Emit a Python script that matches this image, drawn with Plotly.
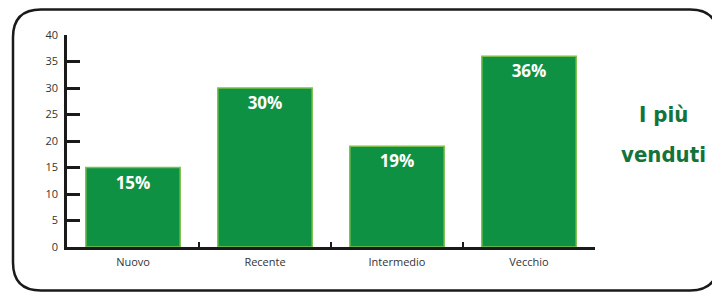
import plotly.graph_objects as go

categories = ["Nuovo", "Recente", "Intermedio", "Vecchio"]
values = [15, 30, 19, 36]
labels = ["15%", "30%", "19%", "36%"]
y_ticks = [0, 5, 10, 15, 20, 25, 30, 35, 40]
title_lines = ["I più", "venduti"]

OFF = 8  # page body margin
W, H = 720 - OFF, 292 - OFF
# plot area in page pixels: x 67..595, y 35..247
L, T = 67 - OFF, 35 - OFF
R, B = W - (595 - OFF), H - (247 - OFF)
pw, ph = W - L - R, H - T - B

def px(x):
    return (x - OFF - L) / pw

def py(y):
    return (H - B - (y - OFF)) / ph

fig = go.Figure()
fig.add_trace(go.Bar(
    x=categories, y=values, text=labels, textposition="inside",
    insidetextanchor="end",
    textfont=dict(color="white", size=17, family="Open Sans, Arial, sans-serif", weight="bold"),
    marker=dict(color="#0f9143", line=dict(color="#7cc04c", width=1.5)),
    width=0.715, cliponaxis=False,
))

# rounded border
x0, x1, y0, y1 = px(13), px(718), py(9.5), py(290.5)
rx, ry = 28 / pw, 28 / ph
path = (f"M {x0+rx},{y0} L {x1-rx},{y0} Q {x1},{y0} {x1},{y0-ry} "
        f"L {x1},{y1+ry} Q {x1},{y1} {x1-rx},{y1} L {x0+rx},{y1} "
        f"Q {x0},{y1} {x0},{y1+ry} L {x0},{y0-ry} Q {x0},{y0} {x0+rx},{y0} Z")
fig.add_shape(type="path", path=path, xref="paper", yref="paper",
              line=dict(color="#1a1a1a", width=2.5), layer="below")

for line, yc in zip(title_lines, [114, 154]):
    fig.add_annotation(x=px(663), y=py(yc), xref="paper", yref="paper",
                       xanchor="center", yanchor="middle",
                       text=f"<b>{line}</b>", showarrow=False,
                       font=dict(size=22, color="#13733a",
                                 family="Liberation Sans Narrow, DejaVu Sans Condensed, Roboto Condensed, sans-serif"))

fig.update_layout(
    width=W, height=H, margin=dict(l=L, r=R, t=T, b=B),
    paper_bgcolor="white", plot_bgcolor="white", showlegend=False,
    font=dict(family="Open Sans, Arial, sans-serif", color="#333333", size=11),
)
fig.update_yaxes(range=[0, 40], tickvals=y_ticks, ticks="inside", ticklen=13,
                 tickwidth=2.5, tickcolor="#1a1a1a", showline=True,
                 linecolor="#1a1a1a", linewidth=2.5, showgrid=False,
                 zeroline=False, ticklabelstandoff=4,
                 tickfont=dict(size=11, color="#333333"))
fig.update_xaxes(showline=True, linecolor="#1a1a1a", linewidth=2.5,
                 ticks="inside", tickson="boundaries", ticklen=5, tickwidth=2,
                 tickcolor="#1a1a1a", showgrid=False, ticklabelstandoff=3,
                 tickfont=dict(size=11, color="#333333"))

fig.write_html("out.html")
